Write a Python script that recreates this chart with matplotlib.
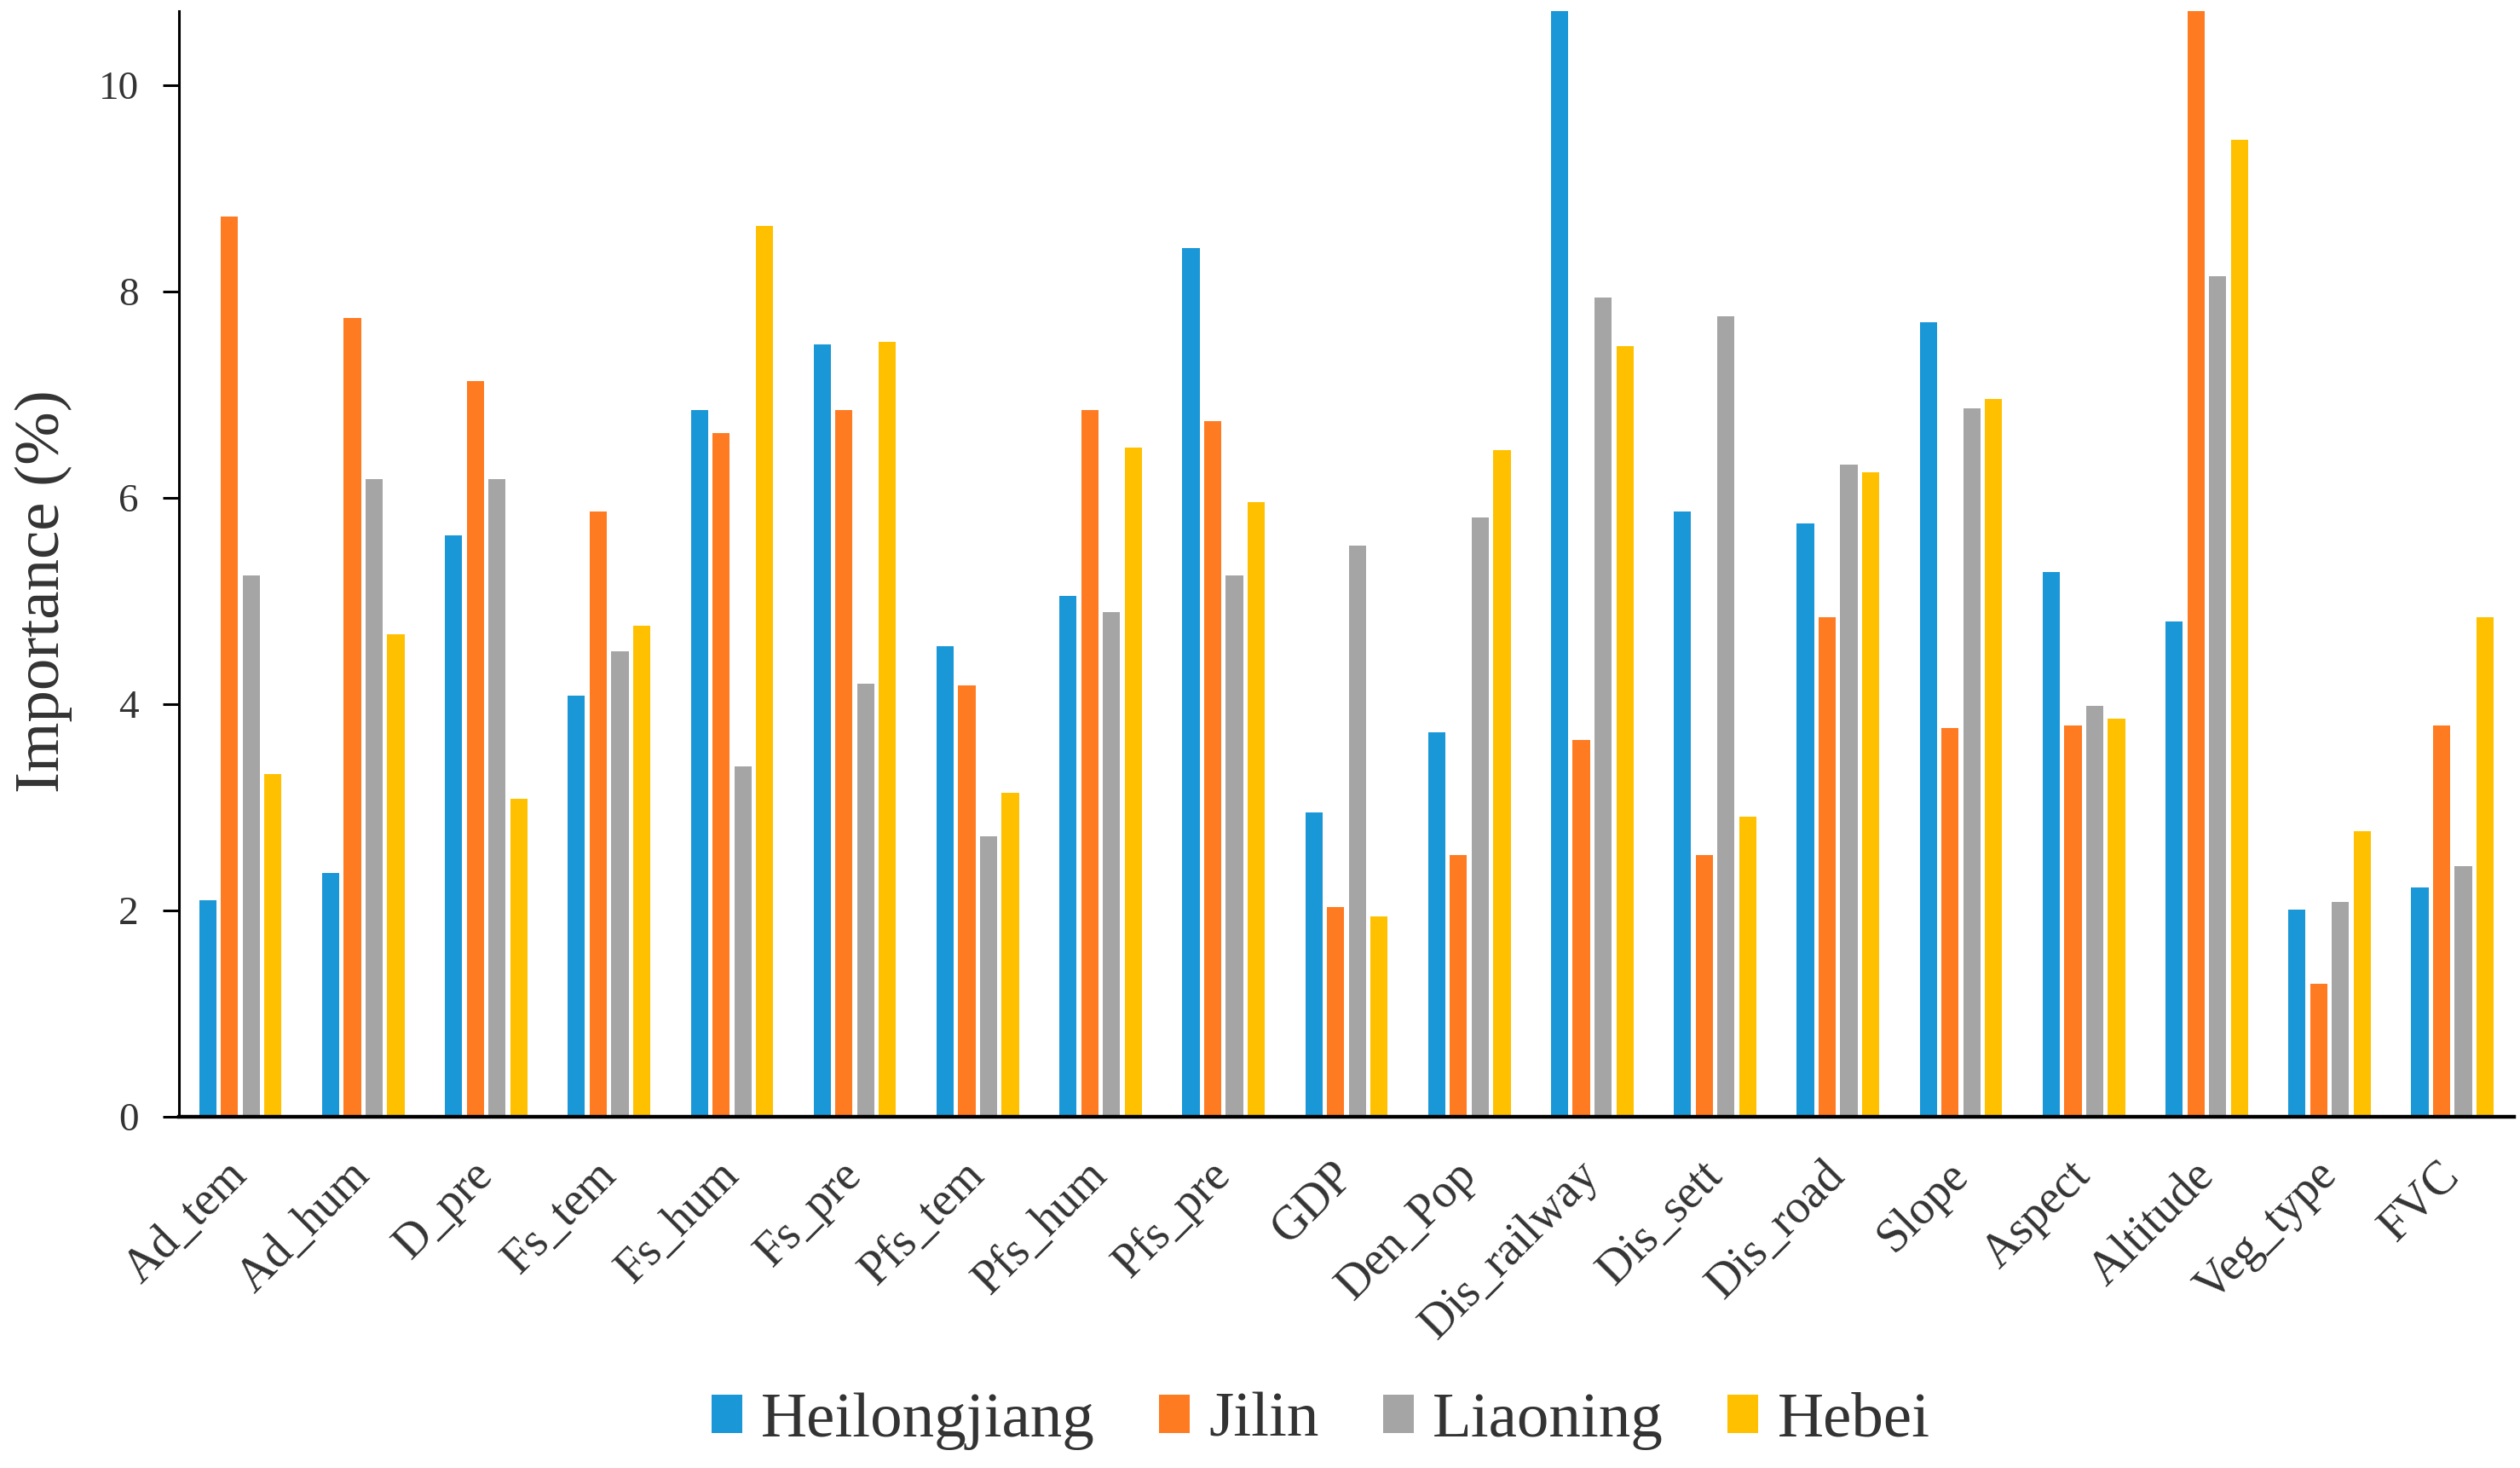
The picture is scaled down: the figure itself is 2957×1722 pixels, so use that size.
import numpy as np
from matplotlib import pyplot as plt

factors = ["Ad_tem", "Ad_hum", "D_pre", "Fs_tem", "Fs_hum", "Fs_pre", "Pfs_tem",
           "Pfs_hum", "Pfs_pre", "GDP", "Den_Pop", "Dis_railway", "Dis_sett",
           "Dis_road", "Slope", "Aspect", "Altitude", "Veg_type", "FVC"]

provinces = ["Heilongjiang", "Jilin", "Liaoning", "Hebei"]

heilongjiang = [2.10, 2.36, 5.64, 4.08, 6.85, 7.49, 4.56, 5.05, 8.42, 2.95,
                3.73, 11.20, 5.87, 5.75, 7.70, 5.28, 4.80, 2.01, 2.22]
jilin = [8.73, 7.74, 7.13, 5.87, 6.63, 6.85, 4.18, 6.85, 6.74, 2.03,
         2.54, 3.65, 2.54, 4.84, 3.77, 3.79, 11.40, 1.29, 3.79]
liaoning = [5.25, 6.18, 6.18, 4.51, 3.40, 4.20, 2.72, 4.89, 5.25, 5.54,
            5.81, 7.94, 7.76, 6.32, 6.87, 3.98, 8.15, 2.08, 2.43]
hebei = [3.32, 4.68, 3.08, 4.76, 8.64, 7.51, 3.14, 6.49, 5.96, 1.94,
         6.46, 7.47, 2.91, 6.25, 6.96, 3.86, 9.47, 2.77, 4.84]

colors = ["#1A97D7", "#FF7B22", "#A5A5A5", "#FFC000"]


def show_importance(series, labels, names):
    """
    Draws grouped bars of factor importance per province.
    :param series: list of value lists, one per province
    :param labels: factor names
    :param names: province names
    """

    plt.rcParams["font.family"] = ["Liberation Serif", "DejaVu Serif"]
    fig = plt.figure(figsize=(14.785, 8.61), dpi=200)
    ax = fig.add_axes([0.071, 0.2393, 0.9266, 0.7532])

    x = np.arange(len(labels))
    step = 0.177
    width = 0.14
    for i, (values, name) in enumerate(zip(series, names)):
        ax.bar(x + (i - 1.5) * step, values, width, color=colors[i], label=name)

    ax.set_xlim(-0.5, len(labels) - 0.5)
    ax.set_ylim(0, 10.72)
    ax.set_yticks(np.arange(0, 11, 2))
    ax.set_xticks(x)
    ax.set_xticklabels(labels, rotation=45, ha="right", va="center",
                       rotation_mode="anchor", fontsize=20, color="#333333")
    ax.tick_params(axis="x", length=0, pad=22)
    ax.tick_params(axis="y", length=7, width=1.1, labelsize=17, pad=10,
                   direction="out", labelcolor="#333333")
    ax.set_ylabel("Importance (%)", fontsize=27, color="#333333", va="center")
    ax.yaxis.set_label_coords(-0.058, 0.475)

    for side in ["top", "right"]:
        ax.spines[side].set_visible(False)
    ax.spines["left"].set_linewidth(1.1)
    ax.spines["bottom"].set_linewidth(1.6)

    fig.legend(loc="center", bbox_to_anchor=(0.524, 0.032), ncol=4, frameon=False,
               fontsize=27, handlelength=0.48, handleheight=0.55,
               handletextpad=0.3, columnspacing=1.0, labelcolor="#333333")
    fig.savefig("out.png", dpi=200)


show_importance([heilongjiang, jilin, liaoning, hebei], factors, provinces)
